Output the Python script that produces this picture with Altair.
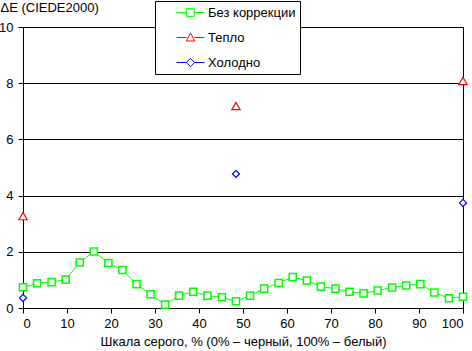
import altair as alt
import pandas as pd

# Grey-scale positions (%) and delta E values
gray_x = [0, 3.2, 6.5, 9.7, 12.9, 16.1, 19.4, 22.6, 25.8, 29.0, 32.3, 35.5,
          38.7, 41.9, 45.2, 48.4, 51.6, 54.8, 58.1, 61.3, 64.5, 67.7, 71.0,
          74.2, 77.4, 80.6, 83.9, 87.1, 90.3, 93.5, 96.8, 100]
no_corr = [0.74, 0.88, 0.92, 1.01, 1.62, 2.01, 1.60, 1.35, 0.85, 0.49, 0.12,
           0.44, 0.58, 0.44, 0.38, 0.24, 0.44, 0.69, 0.89, 1.10, 0.98, 0.76,
           0.69, 0.58, 0.52, 0.62, 0.73, 0.80, 0.85, 0.55, 0.35, 0.40]
ends_x = [0, 48.4, 100]
warm = [3.27, 7.19, 8.08]
cold = [0.36, 4.77, 3.74]

series_names = ["Без коррекции", "Тепло", "Холодно"]
colors = ["#00ff00", "#ff0000", "#0000ff"]
shapes = ["square", "triangle-up", "diamond"]

rows = []
for x, y in zip(gray_x, no_corr):
    rows.append({"x": x, "y": y, "s": series_names[0]})
for x, y in zip(ends_x, warm):
    rows.append({"x": x, "y": y, "s": series_names[1]})
for x, y in zip(ends_x, cold):
    rows.append({"x": x, "y": y, "s": series_names[2]})
df = pd.DataFrame(rows)

FONT = "Liberation Sans"

line_path = "M-2,0H-0.55M0.55,0H2"
leg_paths = [
    line_path + "M-0.55,-0.55H0.55V0.55H-0.55Z",
    line_path + "M0,-0.65L0.6,0.5L-0.6,0.5Z",
    line_path + "M0,-0.6L0.6,0L0,0.6L-0.6,0Z",
]

x_enc = alt.X(
    "x:Q",
    scale=alt.Scale(domain=[0, 100], nice=False),
    axis=alt.Axis(
        values=list(range(0, 101, 10)), title="Шкала серого, % (0% – черный, 100% – белый)",
        grid=False, tickSize=5, labelPadding=4, titlePadding=5,
    ),
)
y_enc = alt.Y(
    "y:Q",
    scale=alt.Scale(domain=[0, 10], nice=False),
    axis=alt.Axis(
        values=[0, 2, 4, 6, 8, 10], title="ΔE (CIEDE2000)", grid=True,
        tickSize=5, labelPadding=5, titleAngle=0, titleAlign="left",
        titleBaseline="top", titleX=-23, titleY=-26,
    ),
)

base = alt.Chart(df)

line = base.transform_filter(
    alt.datum.s == series_names[0]
).mark_line(color=colors[0], strokeWidth=1).encode(x=x_enc, y=y_enc)

point_layers = []
for name, col, shp, sw, sz in zip(series_names, colors, shapes, [1.5, 1.2, 1.2], [50, 70, 50]):
    point_layers.append(
        base.transform_filter(alt.datum.s == name).mark_point(
            size=sz, strokeWidth=sw, fill="white", stroke=col, shape=shp,
            filled=False, opacity=1,
        ).encode(x=x_enc, y=y_enc)
    )

leg = alt.Legend(
    title=None, orient="none", legendX=132, legendY=-26,
    padding=4, symbolOffset=24, labelOffset=10, rowPadding=10,
    fillColor="white", strokeColor="black", symbolSize=196,
    symbolStrokeWidth=1, symbolOpacity=1,
    labelFont=FONT, labelFontSize=13, labelColor="black",
    labelExpr="datum.label + '\u00a0\u00a0\u00a0'",
)

legend_layer = base.transform_filter("false").mark_point(
    filled=False, size=196, strokeWidth=1
).encode(
    x=x_enc,
    y=y_enc,
    stroke=alt.Stroke("s:N", scale=alt.Scale(domain=series_names, range=colors), legend=leg),
    shape=alt.Shape("s:N", scale=alt.Scale(domain=series_names, range=leg_paths), legend=leg),
)

chart = alt.layer(line, *point_layers, legend_layer).properties(
    width=440, height=281,
    autosize=alt.AutoSizeParams(type="none"),
    padding={"left": 23, "top": 27, "right": 9, "bottom": 43},
    background="white",
).configure_view(
    stroke="black", strokeWidth=1
).configure_axis(
    domainColor="black", tickColor="black", gridColor="black", gridOpacity=1,
    labelColor="black", titleColor="black", labelFont=FONT, titleFont=FONT,
    labelFontSize=13, titleFontSize=13, titleFontWeight="normal",
    domainWidth=1, tickWidth=1, gridWidth=1,
)

chart.save("out.html", embed_options={"renderer": "svg", "actions": False})
